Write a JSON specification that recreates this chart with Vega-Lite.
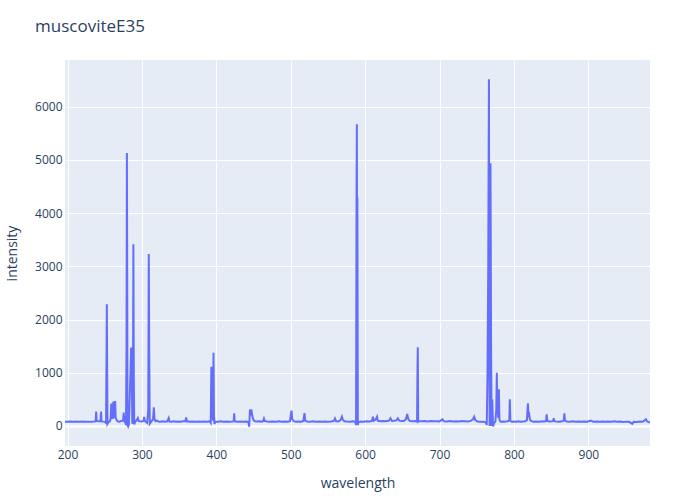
{
  "$schema": "https://vega.github.io/schema/vega-lite/v6.json",
  "autosize": {"type": "none"},
  "width": 585,
  "height": 386,
  "padding": {"left": 65, "top": 60, "right": 50, "bottom": 54},
  "background": "white",
  "title": {
    "text": "muscoviteE35",
    "anchor": "start",
    "frame": "group",
    "dx": -30,
    "offset": 11,
    "baseline": "alphabetic",
    "font": "Open Sans",
    "fontSize": 17,
    "fontWeight": "normal",
    "color": "#2a3f5f"
  },
  "config": {
    "view": {"fill": "#E5ECF6", "stroke": null},
    "axis": {
      "labelFont": "Open Sans",
      "labelFontSize": 12,
      "labelColor": "#2a3f5f",
      "titleFont": "Open Sans",
      "titleFontSize": 14,
      "titleFontWeight": "normal",
      "titleColor": "#2a3f5f",
      "domain": false,
      "ticks": false,
      "gridColor": "white",
      "gridOpacity": 1
    }
  },
  "data": {
    "values": [
      {"w": 196.6, "i": 82}, {"w": 200, "i": 80}, {"w": 204, "i": 84}, {"w": 208, "i": 78}, {"w": 212, "i": 83},
      {"w": 216, "i": 80}, {"w": 220, "i": 85}, {"w": 224, "i": 79}, {"w": 228, "i": 82}, {"w": 232, "i": 80},
      {"w": 236, "i": 84}, {"w": 237.8, "i": 90}, {"w": 238.5, "i": 270}, {"w": 239.2, "i": 95}, {"w": 242, "i": 88},
      {"w": 244.3, "i": 92}, {"w": 245, "i": 270}, {"w": 245.7, "i": 88}, {"w": 248, "i": 82}, {"w": 250, "i": 78},
      {"w": 251.8, "i": 60}, {"w": 252.4, "i": 1300}, {"w": 252.8, "i": 2290}, {"w": 253.2, "i": 1250}, {"w": 253.7, "i": 40},
      {"w": 255, "i": 70}, {"w": 257, "i": 90}, {"w": 258, "i": 150}, {"w": 258.8, "i": 420}, {"w": 259.5, "i": 200},
      {"w": 260.5, "i": 130}, {"w": 261.5, "i": 460}, {"w": 262.2, "i": 180}, {"w": 263.2, "i": 150}, {"w": 264, "i": 470},
      {"w": 264.7, "i": 160}, {"w": 266, "i": 110}, {"w": 268, "i": 85}, {"w": 270, "i": 80}, {"w": 272, "i": 95},
      {"w": 274.6, "i": 100}, {"w": 275.5, "i": 250}, {"w": 276.3, "i": 90}, {"w": 277.5, "i": 70}, {"w": 278.6, "i": 20},
      {"w": 279.3, "i": 1500}, {"w": 279.8, "i": 5130}, {"w": 280.2, "i": 2960}, {"w": 280.6, "i": 20}, {"w": 281.5, "i": -10},
      {"w": 282.5, "i": 30}, {"w": 284.8, "i": 1100}, {"w": 285.5, "i": 1470}, {"w": 286.2, "i": 1450}, {"w": 287, "i": 40},
      {"w": 288, "i": 800}, {"w": 288.5, "i": 3415}, {"w": 289.1, "i": 900}, {"w": 289.7, "i": 30}, {"w": 291, "i": 80},
      {"w": 293, "i": 110}, {"w": 294.5, "i": 150}, {"w": 295.5, "i": 95}, {"w": 297, "i": 90}, {"w": 299, "i": 85},
      {"w": 301, "i": 90}, {"w": 302.3, "i": 100}, {"w": 303, "i": 170}, {"w": 303.8, "i": 95}, {"w": 305, "i": 80},
      {"w": 307, "i": 60}, {"w": 308.5, "i": 300}, {"w": 309.2, "i": 3230}, {"w": 309.8, "i": 1400}, {"w": 310.5, "i": 40},
      {"w": 312, "i": 70}, {"w": 313.5, "i": 100}, {"w": 315, "i": 130}, {"w": 316, "i": 350}, {"w": 317, "i": 120},
      {"w": 318.5, "i": 90}, {"w": 320, "i": 100}, {"w": 322, "i": 85}, {"w": 325, "i": 80}, {"w": 328, "i": 90},
      {"w": 331, "i": 82}, {"w": 334, "i": 88}, {"w": 336, "i": 150}, {"w": 337, "i": 85}, {"w": 340, "i": 80},
      {"w": 343, "i": 90}, {"w": 346, "i": 82}, {"w": 349, "i": 85}, {"w": 352, "i": 78}, {"w": 355, "i": 88},
      {"w": 358.5, "i": 90}, {"w": 359.5, "i": 160}, {"w": 360.5, "i": 88}, {"w": 364, "i": 80}, {"w": 368, "i": 85},
      {"w": 372, "i": 78}, {"w": 376, "i": 84}, {"w": 380, "i": 80}, {"w": 384, "i": 86}, {"w": 388, "i": 82},
      {"w": 391, "i": 90}, {"w": 392.5, "i": 60}, {"w": 393.3, "i": 1115}, {"w": 393.8, "i": 600}, {"w": 394.3, "i": 1050},
      {"w": 394.8, "i": 300}, {"w": 395.5, "i": 100}, {"w": 396.2, "i": 1378}, {"w": 396.8, "i": 200}, {"w": 397.5, "i": 40},
      {"w": 399, "i": 85}, {"w": 402, "i": 80}, {"w": 406, "i": 88}, {"w": 410, "i": 82}, {"w": 414, "i": 86},
      {"w": 418, "i": 80}, {"w": 422, "i": 85}, {"w": 423.3, "i": 90}, {"w": 424, "i": 238}, {"w": 424.7, "i": 88},
      {"w": 428, "i": 82}, {"w": 432, "i": 86}, {"w": 436, "i": 80}, {"w": 440, "i": 84}, {"w": 443, "i": 78},
      {"w": 444.2, "i": -15}, {"w": 445.2, "i": 310}, {"w": 446, "i": 200}, {"w": 447, "i": 313}, {"w": 448.5, "i": 180},
      {"w": 450, "i": 110}, {"w": 452, "i": 90}, {"w": 455, "i": 85}, {"w": 458, "i": 88}, {"w": 461, "i": 82},
      {"w": 463, "i": 95}, {"w": 464, "i": 140}, {"w": 465, "i": 95}, {"w": 468, "i": 85}, {"w": 472, "i": 80},
      {"w": 476, "i": 86}, {"w": 480, "i": 82}, {"w": 484, "i": 88}, {"w": 488, "i": 80}, {"w": 492, "i": 85},
      {"w": 496, "i": 80}, {"w": 499, "i": 90}, {"w": 500, "i": 200}, {"w": 501, "i": 290}, {"w": 502, "i": 130},
      {"w": 504, "i": 90}, {"w": 507, "i": 82}, {"w": 510, "i": 85}, {"w": 514, "i": 80}, {"w": 517, "i": 95},
      {"w": 518.5, "i": 240}, {"w": 519.5, "i": 100}, {"w": 522, "i": 85}, {"w": 526, "i": 82}, {"w": 530, "i": 88},
      {"w": 534, "i": 80}, {"w": 538, "i": 85}, {"w": 542, "i": 82}, {"w": 546, "i": 86}, {"w": 550, "i": 80},
      {"w": 554, "i": 84}, {"w": 558, "i": 95}, {"w": 559.5, "i": 140}, {"w": 561, "i": 90}, {"w": 564, "i": 85},
      {"w": 567, "i": 110}, {"w": 568.8, "i": 175}, {"w": 570, "i": 120}, {"w": 572, "i": 90}, {"w": 576, "i": 85},
      {"w": 580, "i": 82}, {"w": 584, "i": 88}, {"w": 586.5, "i": 80}, {"w": 587.8, "i": 20}, {"w": 588.5, "i": 4500},
      {"w": 588.9, "i": 5670}, {"w": 589.3, "i": 2000}, {"w": 589.6, "i": 4300}, {"w": 590.2, "i": 20}, {"w": 591, "i": 70},
      {"w": 594, "i": 85}, {"w": 598, "i": 80}, {"w": 602, "i": 88}, {"w": 606, "i": 85}, {"w": 609, "i": 95},
      {"w": 610.5, "i": 175}, {"w": 611.5, "i": 100}, {"w": 613, "i": 110}, {"w": 614.5, "i": 130}, {"w": 616, "i": 175},
      {"w": 617, "i": 100}, {"w": 620, "i": 90}, {"w": 624, "i": 95}, {"w": 628, "i": 88}, {"w": 632, "i": 100},
      {"w": 634, "i": 145}, {"w": 636, "i": 95}, {"w": 639, "i": 100}, {"w": 642, "i": 105}, {"w": 644, "i": 145},
      {"w": 646, "i": 100}, {"w": 649, "i": 92}, {"w": 652, "i": 95}, {"w": 655, "i": 130}, {"w": 656.5, "i": 225},
      {"w": 658, "i": 130}, {"w": 660, "i": 95}, {"w": 664, "i": 90}, {"w": 668, "i": 92}, {"w": 669.8, "i": 80},
      {"w": 670.4, "i": 1100}, {"w": 670.8, "i": 1480}, {"w": 671.3, "i": 80}, {"w": 673, "i": 90}, {"w": 676, "i": 88},
      {"w": 680, "i": 92}, {"w": 684, "i": 86}, {"w": 688, "i": 95}, {"w": 692, "i": 88}, {"w": 696, "i": 90},
      {"w": 700, "i": 86}, {"w": 704, "i": 125}, {"w": 706, "i": 88}, {"w": 710, "i": 85}, {"w": 714, "i": 92},
      {"w": 718, "i": 86}, {"w": 722, "i": 90}, {"w": 726, "i": 85}, {"w": 730, "i": 92}, {"w": 734, "i": 88},
      {"w": 738, "i": 84}, {"w": 742, "i": 95}, {"w": 745, "i": 130}, {"w": 746.5, "i": 175}, {"w": 748, "i": 110},
      {"w": 751, "i": 85}, {"w": 755, "i": 80}, {"w": 759, "i": 78}, {"w": 762, "i": 70}, {"w": 763.5, "i": 20},
      {"w": 764.5, "i": 1000}, {"w": 765.5, "i": 3000}, {"w": 766.4, "i": 6517}, {"w": 766.9, "i": 2000}, {"w": 767.3, "i": 0},
      {"w": 767.8, "i": 2500}, {"w": 768.5, "i": 4938}, {"w": 769.3, "i": 1500}, {"w": 770, "i": 0}, {"w": 770.8, "i": 500},
      {"w": 772, "i": -10}, {"w": 773.5, "i": 60}, {"w": 775, "i": 80}, {"w": 776.3, "i": 300}, {"w": 777, "i": 1000},
      {"w": 777.6, "i": 400}, {"w": 779, "i": 150}, {"w": 779.8, "i": 690}, {"w": 780.5, "i": 120}, {"w": 782, "i": 80},
      {"w": 785, "i": 85}, {"w": 788, "i": 82}, {"w": 791, "i": 88}, {"w": 793.8, "i": 100}, {"w": 794.5, "i": 502},
      {"w": 795.2, "i": 100}, {"w": 797, "i": 80}, {"w": 800, "i": 85}, {"w": 803, "i": 82}, {"w": 806, "i": 88},
      {"w": 809, "i": 80}, {"w": 812, "i": 85}, {"w": 815, "i": 90}, {"w": 817.5, "i": 110}, {"w": 818.8, "i": 427},
      {"w": 819.6, "i": 200}, {"w": 820.5, "i": 220}, {"w": 821.5, "i": 120}, {"w": 823, "i": 95}, {"w": 826, "i": 82},
      {"w": 830, "i": 86}, {"w": 834, "i": 80}, {"w": 838, "i": 88}, {"w": 841, "i": 85}, {"w": 843.2, "i": 95},
      {"w": 844, "i": 220}, {"w": 844.8, "i": 95}, {"w": 848, "i": 85}, {"w": 851, "i": 88}, {"w": 852.8, "i": 95},
      {"w": 853.5, "i": 145}, {"w": 854.3, "i": 90}, {"w": 857, "i": 85}, {"w": 861, "i": 80}, {"w": 865, "i": 88},
      {"w": 867, "i": 100}, {"w": 867.8, "i": 238}, {"w": 868.6, "i": 100}, {"w": 871, "i": 85}, {"w": 875, "i": 82},
      {"w": 879, "i": 88}, {"w": 883, "i": 80}, {"w": 887, "i": 85}, {"w": 891, "i": 78}, {"w": 895, "i": 86},
      {"w": 899, "i": 80}, {"w": 903, "i": 100}, {"w": 907, "i": 82}, {"w": 911, "i": 85}, {"w": 915, "i": 78},
      {"w": 919, "i": 84}, {"w": 923, "i": 80}, {"w": 927, "i": 86}, {"w": 931, "i": 78}, {"w": 935, "i": 90},
      {"w": 939, "i": 80}, {"w": 943, "i": 85}, {"w": 947, "i": 76}, {"w": 951, "i": 82}, {"w": 955, "i": 78},
      {"w": 959, "i": 40}, {"w": 961, "i": 80}, {"w": 965, "i": 75}, {"w": 969, "i": 82}, {"w": 973, "i": 78},
      {"w": 976, "i": 110}, {"w": 977.4, "i": 125}, {"w": 979, "i": 85}, {"w": 982.9, "i": 65}
    ]
  },
  "mark": {"type": "line", "color": "#636efa", "strokeWidth": 2, "clip": true},
  "encoding": {
    "x": {
      "field": "w",
      "type": "quantitative",
      "scale": {"domain": [196.6, 982.9], "nice": false, "zero": false},
      "axis": {
        "title": "wavelength",
        "values": [200, 300, 400, 500, 600, 700, 800, 900],
        "labelPadding": 3,
        "titleY": 37,
        "titleBaseline": "middle"
      }
    },
    "y": {
      "field": "i",
      "type": "quantitative",
      "scale": {"domain": [-376, 6878], "nice": false, "zero": false},
      "axis": {
        "title": "intensity",
        "format": "d",
        "values": [0, 1000, 2000, 3000, 4000, 5000, 6000],
        "labelPadding": 3,
        "gridWidth": {"condition": {"test": "datum.value === 0", "value": 2}, "value": 1},
        "titleX": -53,
        "titleBaseline": "middle"
      }
    }
  }
}
